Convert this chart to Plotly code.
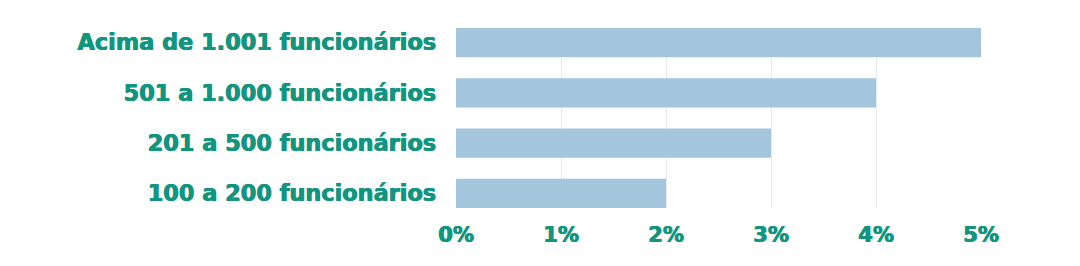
import plotly.graph_objects as go

categories = ["100 a 200 funcionários", "201 a 500 funcionários", "501 a 1.000 funcionários", "Acima de 1.001 funcionários"]
values = [2, 3, 4, 5]
tick_vals = [0, 1, 2, 3, 4, 5]
tick_text = ["0%", "1%", "2%", "3%", "4%", "5%"]

teal = "#12957f"
heavy = "0.6px 0 0 #12957f, -0.3px 0 0 #12957f"
fig = go.Figure(go.Bar(
    x=values, y=categories, orientation="h",
    marker=dict(color="#a3c6dd", line=dict(width=0)),
    hoverinfo="skip",
))
fig.update_layout(
    width=1080, height=266,
    margin=dict(l=456, r=99, t=28, b=58),
    paper_bgcolor="white", plot_bgcolor="white",
    bargap=0.42,
    showlegend=False,
    font=dict(family="DejaVu Sans", color=teal, size=19),
)
fig.update_xaxes(
    range=[0, 5], tickvals=tick_vals, ticktext=tick_text,
    showgrid=True, gridcolor="#e6eaee", gridwidth=1,
    zeroline=False, showline=False, ticks="",
    tickfont=dict(family="DejaVu Sans", size=21, color=teal, weight="bold", shadow=heavy),
    ticklabelstandoff=12,
)
fig.update_yaxes(
    range=[-0.29, 3.29], showgrid=False, zeroline=False, showline=False, ticks="",
    tickfont=dict(family="DejaVu Sans", size=22.4, color=teal, weight="bold", shadow=heavy),
    ticklabelstandoff=19,
)
fig.write_html("out.html")
